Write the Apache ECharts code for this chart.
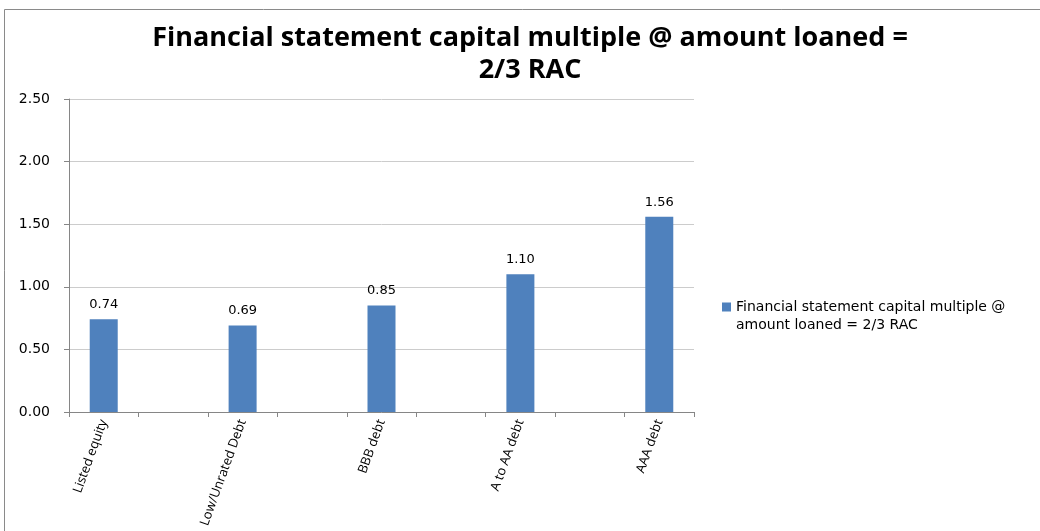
<!DOCTYPE html>
<html><head><meta charset="utf-8">
<script src="https://cdn.jsdelivr.net/npm/echarts@6/dist/echarts.min.js"></script>
<style>html,body{margin:0;padding:0;background:#fff}#c{width:1040px;height:531px}</style>
</head><body><div id="c"></div>
<script>
// Source worksheet has blank spacer columns between the rated categories
const categories = ['Listed equity', '', 'Low/Unrated Debt', '', 'BBB debt', '', 'A to AA debt', '', 'AAA debt'];
const values = [0.74, null, 0.69, null, 0.85, null, 1.10, null, 1.56];
const yTicks = [0, 0.5, 1.0, 1.5, 2.0, 2.5];
const seriesName = 'Financial statement capital multiple @ amount loaned = 2/3 RAC';
const legendText = 'Financial statement capital multiple @\namount loaned = 2/3 RAC';
const titleText = 'Financial statement capital multiple @ amount loaned =\n2/3 RAC';

const chart = echarts.init(document.getElementById('c'));
chart.setOption({
  animation: false,
  graphic: [{type:'rect', shape:{x:4.5,y:9.5,width:1040,height:540}, style:{fill:'none', stroke:'#8a8a8a', lineWidth:1}}],
  title: {text: titleText, left: 525, textAlign: 'center', top: 17,
    textStyle: {fontFamily: 'Open Sans', fontWeight: 'bold', fontSize: 27, color: '#000', lineHeight: 32}},
  legend: {left: 717, top: 293, orient: 'vertical', itemWidth: 9, itemHeight: 36, itemGap: 0,
    icon: 'path://M0,4.5h9v9h-9zM0,0h0.01M0,36h0.01',
    formatter: () => legendText,
    textStyle: {fontFamily: 'DejaVu Sans', fontSize: 14, color: '#000', lineHeight: 18}},
  grid: {left: 69, right: 346, top: 99, bottom: 119, containLabel: false},
  xAxis: {type: 'category', data: categories,
    axisLine: {lineStyle: {color: '#868686'}},
    axisTick: {show: true, length: 5, interval: 0, lineStyle: {color: '#868686'}},
    axisLabel: {rotate: 70, interval: 0, fontFamily: 'Open Sans', fontSize: 13, color: '#000', margin: 8}},
  yAxis: {type: 'value', min: yTicks[0], max: yTicks[yTicks.length - 1], interval: 0.5,
    axisLine: {show: true, lineStyle: {color: '#868686'}},
    axisTick: {show: true, length: 5, lineStyle: {color: '#868686'}},
    splitLine: {lineStyle: {color: '#cccccc'}},
    axisLabel: {formatter: v => v.toFixed(2), fontFamily: 'DejaVu Sans', fontSize: 14, color: '#000', margin: 19}},
  series: [{name: seriesName, type: 'bar', data: values, barWidth: 28,
    itemStyle: {color: '#4f81bd'},
    label: {show: true, position: 'top', distance: 8, formatter: p => p.value.toFixed(2),
      fontFamily: 'DejaVu Sans', fontSize: 13, color: '#000'}}]
});
</script></body></html>
